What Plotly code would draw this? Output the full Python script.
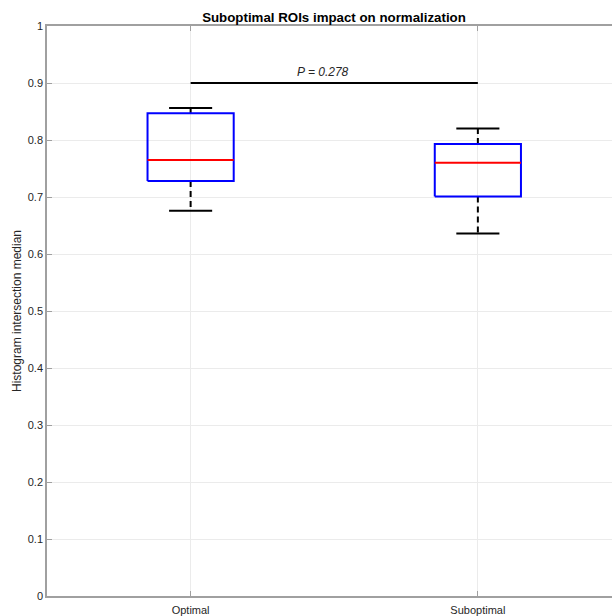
import plotly.graph_objects as go

categories = ["Optimal", "Suboptimal"]
positions = [1, 2]
upper_whisker = [0.856, 0.820]
q3 = [0.847, 0.793]
median = [0.765, 0.760]
q1 = [0.728, 0.701]
lower_whisker = [0.676, 0.636]
p_value_text = "P = 0.278"
sig_level = 0.9
y_ticks = [0, 0.1, 0.2, 0.3, 0.4, 0.5, 0.6, 0.7, 0.8, 0.9, 1]
y_tick_labels = ["0", "0.1", "0.2", "0.3", "0.4", "0.5", "0.6", "0.7", "0.8", "0.9", "1"]

BOX_HALF = 0.15
CAP_HALF = 0.075

fig = go.Figure()

def line(xs, ys, color, width, dash="solid"):
    fig.add_trace(go.Scatter(x=xs, y=ys, mode="lines",
                             line=dict(color=color, width=width, dash=dash),
                             hoverinfo="skip", showlegend=False))

for i, x in enumerate(positions):
    # whiskers (dashed)
    line([x, x], [q3[i], upper_whisker[i]], "black", 2, "6px,4px")
    line([x, x], [q1[i], lower_whisker[i]], "black", 2, "6px,4px")
    # caps
    line([x - CAP_HALF, x + CAP_HALF], [upper_whisker[i]] * 2, "black", 2)
    line([x - CAP_HALF, x + CAP_HALF], [lower_whisker[i]] * 2, "black", 2)
    # box
    line([x - BOX_HALF, x + BOX_HALF, x + BOX_HALF, x - BOX_HALF, x - BOX_HALF],
         [q1[i], q1[i], q3[i], q3[i], q1[i]], "#0000ff", 2)
    # median
    line([x - BOX_HALF, x + BOX_HALF], [median[i]] * 2, "#ff0000", 2)

# significance line
line([positions[0], positions[1]], [sig_level, sig_level], "black", 2)
fig.add_annotation(x=(positions[0] + positions[1]) / 2, y=sig_level,
                   text="<i>" + p_value_text + "</i>",
                   showarrow=False, yanchor="bottom", yshift=2, xshift=-11,
                   font=dict(family="Liberation Sans, Arial", size=12, color="#262626"))

fig.update_layout(
    width=612, height=616,
    margin=dict(l=47, r=0, t=26, b=20, autoexpand=False),
    paper_bgcolor="white", plot_bgcolor="white",
    font=dict(family="Liberation Sans, Arial", size=11, color="#262626"),
    title=dict(text="<b>Suboptimal ROIs impact on normalization</b>",
               x=334 / 612, xanchor="center", y=1 - 17 / 616, yanchor="middle",
               font=dict(size=13.3, color="black")),
    xaxis=dict(range=[0.5, 2.467], tickvals=positions, ticktext=categories,
               showgrid=True, gridcolor="#ebebeb", gridwidth=1,
               showline=True, linecolor="#a0a0a0", linewidth=1.5, mirror="ticks",
               ticks="inside", ticklen=5, tickcolor="#a0a0a0", zeroline=False,
               automargin=False, ticklabelstandoff=3,
               tickfont=dict(size=11, color="#262626")),
    yaxis=dict(range=[0, 1], tickvals=y_ticks, ticktext=y_tick_labels,
               showgrid=True, gridcolor="#ebebeb", gridwidth=1,
               showline=True, linecolor="#a0a0a0", linewidth=1.5,
               ticks="inside", ticklen=5, tickcolor="#a0a0a0", zeroline=False,
               automargin=False,
               tickfont=dict(size=11, color="#262626"),
               title=dict(text="Histogram intersection median", standoff=4,
                          font=dict(size=12, color="#262626"))),
)

fig.write_html("out.html", config={"displayModeBar": False},
               post_script="document.body.style.margin='0';document.body.style.overflow='hidden';")
